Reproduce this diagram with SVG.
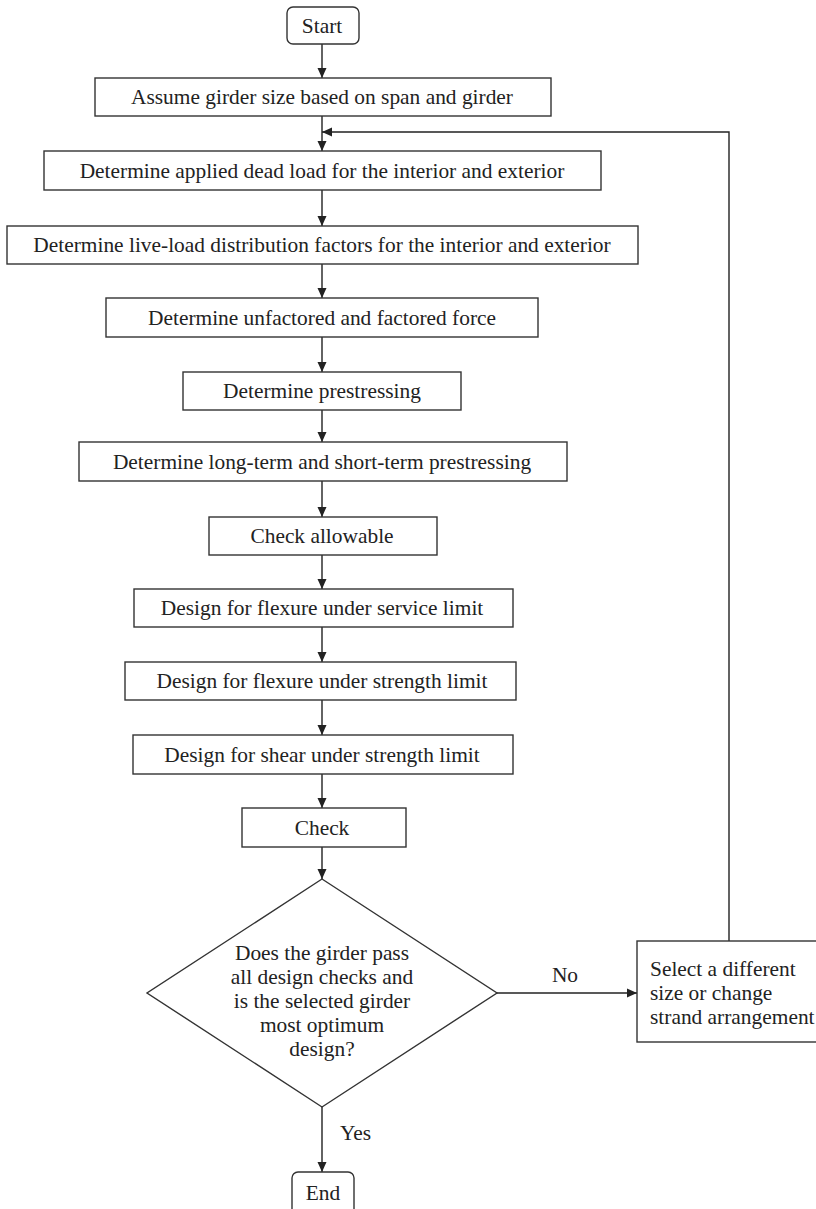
<svg xmlns="http://www.w3.org/2000/svg" width="816" height="1209" viewBox="0 0 816 1209">
<style>
.b{fill:#fff;stroke:#333;stroke-width:1.4}
.t{font-family:"Liberation Serif","Times New Roman",serif;font-size:21.4px;fill:#222;text-anchor:middle}
.l{font-family:"Liberation Serif","Times New Roman",serif;font-size:21.4px;fill:#222}
.c{fill:none;stroke:#222;stroke-width:1.4}
</style>
<defs>
<marker id="ah" markerWidth="10" markerHeight="10" refX="10" refY="5" orient="auto" markerUnits="userSpaceOnUse">
<path d="M0,0.5 L10,5 L0,9.5 z" fill="#222"/>
</marker>
</defs>
<rect width="816" height="1209" fill="#fff"/>
<g id="connectors">
<line class="c" x1="322" y1="44" x2="322" y2="78" marker-end="url(#ah)"/>
<line class="c" x1="322" y1="116" x2="322" y2="151" marker-end="url(#ah)"/>
<line class="c" x1="322" y1="190" x2="322" y2="226" marker-end="url(#ah)"/>
<line class="c" x1="322" y1="264" x2="322" y2="298" marker-end="url(#ah)"/>
<line class="c" x1="322" y1="337" x2="322" y2="372" marker-end="url(#ah)"/>
<line class="c" x1="322" y1="410" x2="322" y2="442" marker-end="url(#ah)"/>
<line class="c" x1="322" y1="481" x2="322" y2="517" marker-end="url(#ah)"/>
<line class="c" x1="322" y1="555" x2="322" y2="589" marker-end="url(#ah)"/>
<line class="c" x1="322" y1="627" x2="322" y2="662" marker-end="url(#ah)"/>
<line class="c" x1="322" y1="700" x2="322" y2="735" marker-end="url(#ah)"/>
<line class="c" x1="322" y1="774" x2="322" y2="808" marker-end="url(#ah)"/>
<line class="c" x1="322" y1="847" x2="322" y2="879" marker-end="url(#ah)"/>
<line class="c" x1="497" y1="993" x2="637" y2="993" marker-end="url(#ah)"/>
<polyline class="c" points="729,941 729,132 322,132" marker-end="url(#ah)"/>
<line class="c" x1="322" y1="1107" x2="322" y2="1172" marker-end="url(#ah)"/>
<text class="t" x="565" y="982">No</text>
<text class="l" x="340" y="1140">Yes</text>
</g>
<g id="start"><rect class="b" x="287" y="7" width="72" height="37" rx="6"/><text class="t" x="322" y="32.5">Start</text></g>
<g id="n1"><rect class="b" x="95" y="78" width="456" height="38"/><text class="t" x="322" y="104">Assume girder size based on span and girder</text></g>
<g id="n2"><rect class="b" x="44" y="151" width="557" height="39"/><text class="t" x="322" y="177.5">Determine applied dead load for the interior and exterior</text></g>
<g id="n3"><rect class="b" x="7" y="226" width="631" height="38"/><text class="t" x="322" y="252">Determine live-load distribution factors for the interior and exterior</text></g>
<g id="n4"><rect class="b" x="106" y="298" width="432" height="39"/><text class="t" x="322" y="324.5">Determine unfactored and factored force</text></g>
<g id="n5"><rect class="b" x="183" y="372" width="278" height="38"/><text class="t" x="322" y="398">Determine prestressing</text></g>
<g id="n6"><rect class="b" x="79" y="442" width="488" height="39"/><text class="t" x="322" y="468.5">Determine long-term and short-term prestressing</text></g>
<g id="n7"><rect class="b" x="209" y="517" width="228" height="38"/><text class="t" x="322" y="543">Check allowable</text></g>
<g id="n8"><rect class="b" x="134" y="589" width="379" height="38"/><text class="t" x="322" y="615">Design for flexure under service limit</text></g>
<g id="n9"><rect class="b" x="125" y="662" width="391" height="38"/><text class="t" x="322" y="688">Design for flexure under strength limit</text></g>
<g id="n10"><rect class="b" x="133" y="735" width="380" height="39"/><text class="t" x="322" y="761.5">Design for shear under strength limit</text></g>
<g id="check"><rect class="b" x="242" y="808" width="164" height="39"/><text class="t" x="322" y="834.5">Check</text></g>
<g id="decision"><polygon class="b" points="322,879 497,993 322,1107 147,993"/>
<text class="t" x="322" y="960">Does the girder pass</text>
<text class="t" x="322" y="984">all design checks and</text>
<text class="t" x="322" y="1008">is the selected girder</text>
<text class="t" x="322" y="1032">most optimum</text>
<text class="t" x="322" y="1056">design?</text></g>
<g id="select"><rect class="b" x="637" y="941" width="182" height="101"/>
<text class="l" x="650" y="976">Select a different</text>
<text class="l" x="650" y="1000">size or change</text>
<text class="l" x="650" y="1024">strand arrangement</text></g>
<g id="end"><rect class="b" x="292" y="1172" width="62" height="45" rx="6"/><text class="t" x="323" y="1200">End</text></g>
</svg>
